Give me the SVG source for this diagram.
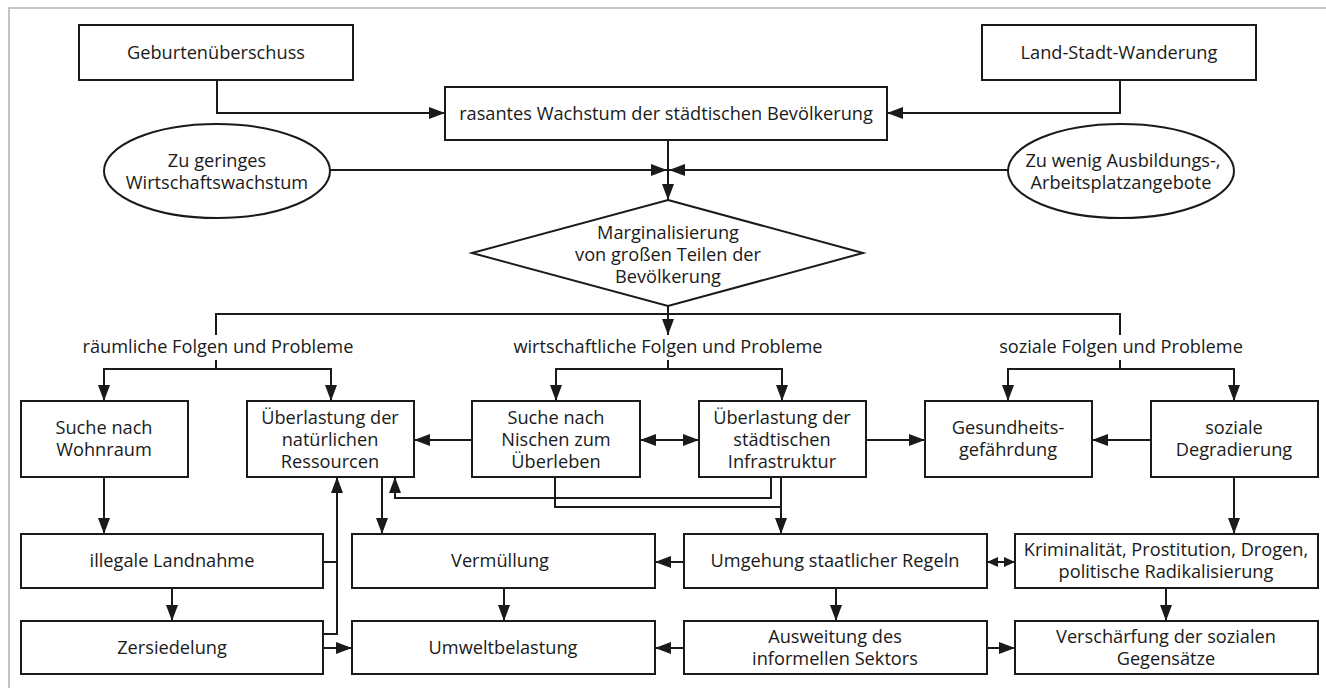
<svg xmlns="http://www.w3.org/2000/svg" width="1326" height="688" viewBox="0 0 1326 688">
<style>
.b{fill:#fff;stroke:#1a1a1a;stroke-width:2}
.t{font-family:"Open Sans","Liberation Sans",sans-serif;font-size:18.2px;fill:#1a1a1a;text-anchor:middle}
.c path{fill:none;stroke:#1a1a1a;stroke-width:2}
.a{marker-end:url(#ah)}
.d{marker-start:url(#ah);marker-end:url(#ah)}
.s{marker-start:url(#as);marker-end:url(#as)}
</style>
<defs>
<marker id="ah" markerWidth="16" markerHeight="12" refX="16" refY="6" orient="auto-start-reverse" markerUnits="userSpaceOnUse"><path d="M0,0 L16,6 L0,12 z" fill="#1a1a1a"/></marker>
<marker id="as" markerWidth="11" markerHeight="10" refX="11" refY="5" orient="auto-start-reverse" markerUnits="userSpaceOnUse"><path d="M0,0 L11,5 L0,10 z" fill="#1a1a1a"/></marker>
</defs>
<rect width="1326" height="688" fill="#fff"/>
<path d="M9,688 V8 H1326" fill="none" stroke="#c4c4c4" stroke-width="2"/>

<g class="c" id="connectors">
<path class="a" d="M217,80 V113 H445"/>
<path class="a" d="M1120,80 V113 H887"/>
<path class="a" d="M668,140 V200"/>
<path class="a" d="M330,170 H667"/>
<path class="a" d="M1008,170 H669"/>
<path d="M216,335 V314 H1120 V335"/>
<path class="a" d="M668,306 V335"/>
<path d="M216,360 V369"/>
<path class="a" d="M216,369 H104 V401"/>
<path class="a" d="M216,369 H331 V401"/>
<path d="M668,360 V369"/>
<path class="a" d="M668,369 H556 V401"/>
<path class="a" d="M668,369 H782 V401"/>
<path d="M1120,360 V369"/>
<path class="a" d="M1120,369 H1008 V401"/>
<path class="a" d="M1120,369 H1234 V401"/>
<path class="a" d="M472,440 H414"/>
<path class="d" d="M640,440 H699"/>
<path class="a" d="M866,440 H925"/>
<path class="a" d="M1151,440 H1092"/>
<path class="a" d="M104,477 V534"/>
<path class="a" d="M172,588 V621"/>
<path d="M323,562 H337"/>
<path class="a" d="M323,634 H337 V477"/>
<path class="a" d="M323,648 H352"/>
<path class="a" d="M382,477 V534"/>
<path class="a" d="M771,477 V498 H395 V477"/>
<path d="M555,477 V507 H781"/>
<path class="a" d="M781,477 V534"/>
<path class="a" d="M684,562 H655"/>
<path class="s" d="M987,562 H1015"/>
<path class="a" d="M1234,477 V534"/>
<path class="a" d="M1166,588 V621"/>
<path class="a" d="M836,588 V621"/>
<path class="a" d="M504,588 V621"/>
<path class="a" d="M684,648 H655"/>
<path class="a" d="M987,648 H1015"/>
</g>

<g id="geburten"><rect class="b" x="79" y="25" width="274" height="55"/><text class="t" x="216" y="59">Geburtenüberschuss</text></g>
<g id="landstadt"><rect class="b" x="982" y="25" width="274" height="55"/><text class="t" x="1119" y="59">Land-Stadt-Wanderung</text></g>
<g id="wachstum"><rect class="b" x="445" y="87" width="442" height="53"/><text class="t" x="666" y="120">rasantes Wachstum der städtischen Bevölkerung</text></g>
<g id="wirtschaft"><ellipse class="b" cx="217" cy="171" rx="113" ry="47"/><text class="t" x="217" y="167">Zu geringes</text><text class="t" x="217" y="189">Wirtschaftswachstum</text></g>
<g id="ausbildung"><ellipse class="b" cx="1121" cy="171" rx="113" ry="47"/><text class="t" x="1123" y="167">Zu wenig Ausbildungs-,</text><text class="t" x="1121" y="189">Arbeitsplatzangebote</text></g>
<g id="marginal"><polygon class="b" points="668,200 863,253 668,306 472,253"/><text class="t" x="668" y="239">Marginalisierung</text><text class="t" x="668" y="261">von großen Teilen der</text><text class="t" x="668" y="283">Bevölkerung</text></g>
<g id="labels"><text class="t" x="218" y="353">räumliche Folgen und Probleme</text><text class="t" x="668" y="353">wirtschaftliche Folgen und Probleme</text><text class="t" x="1121" y="353">soziale Folgen und Probleme</text></g>
<g id="wohnraum"><rect class="b" x="21" y="401" width="167" height="76"/><text class="t" x="104" y="434">Suche nach</text><text class="t" x="104" y="456">Wohnraum</text></g>
<g id="ressourcen"><rect class="b" x="247" y="401" width="167" height="76"/><text class="t" x="330" y="424">Überlastung der</text><text class="t" x="330" y="446">natürlichen</text><text class="t" x="330" y="468">Ressourcen</text></g>
<g id="nischen"><rect class="b" x="472" y="401" width="168" height="76"/><text class="t" x="556" y="424">Suche nach</text><text class="t" x="556" y="446">Nischen zum</text><text class="t" x="556" y="468">Überleben</text></g>
<g id="infrastruktur"><rect class="b" x="699" y="401" width="167" height="76"/><text class="t" x="782" y="424">Überlastung der</text><text class="t" x="782" y="446">städtischen</text><text class="t" x="782" y="468">Infrastruktur</text></g>
<g id="gesundheit"><rect class="b" x="925" y="401" width="167" height="76"/><text class="t" x="1008" y="434">Gesundheits-</text><text class="t" x="1008" y="456">gefährdung</text></g>
<g id="degradierung"><rect class="b" x="1151" y="401" width="167" height="76"/><text class="t" x="1234" y="434">soziale</text><text class="t" x="1234" y="456">Degradierung</text></g>
<g id="landnahme"><rect class="b" x="21" y="534" width="302" height="54"/><text class="t" x="172" y="567">illegale Landnahme</text></g>
<g id="zersiedelung"><rect class="b" x="21" y="621" width="302" height="53"/><text class="t" x="172" y="654">Zersiedelung</text></g>
<g id="vermuellung"><rect class="b" x="352" y="534" width="303" height="54"/><text class="t" x="500" y="567">Vermüllung</text></g>
<g id="umwelt"><rect class="b" x="352" y="621" width="303" height="53"/><text class="t" x="503" y="654">Umweltbelastung</text></g>
<g id="umgehung"><rect class="b" x="684" y="534" width="303" height="54"/><text class="t" x="835" y="567">Umgehung staatlicher Regeln</text></g>
<g id="sektor"><rect class="b" x="684" y="621" width="303" height="53"/><text class="t" x="835" y="643">Ausweitung des</text><text class="t" x="835" y="665">informellen Sektors</text></g>
<g id="kriminalitaet"><rect class="b" x="1015" y="534" width="303" height="54"/><text class="t" x="1166" y="556">Kriminalität, Prostitution, Drogen,</text><text class="t" x="1166" y="578">politische Radikalisierung</text></g>
<g id="gegensaetze"><rect class="b" x="1015" y="621" width="303" height="53"/><text class="t" x="1166" y="643">Verschärfung der sozialen</text><text class="t" x="1166" y="665">Gegensätze</text></g>
</svg>
